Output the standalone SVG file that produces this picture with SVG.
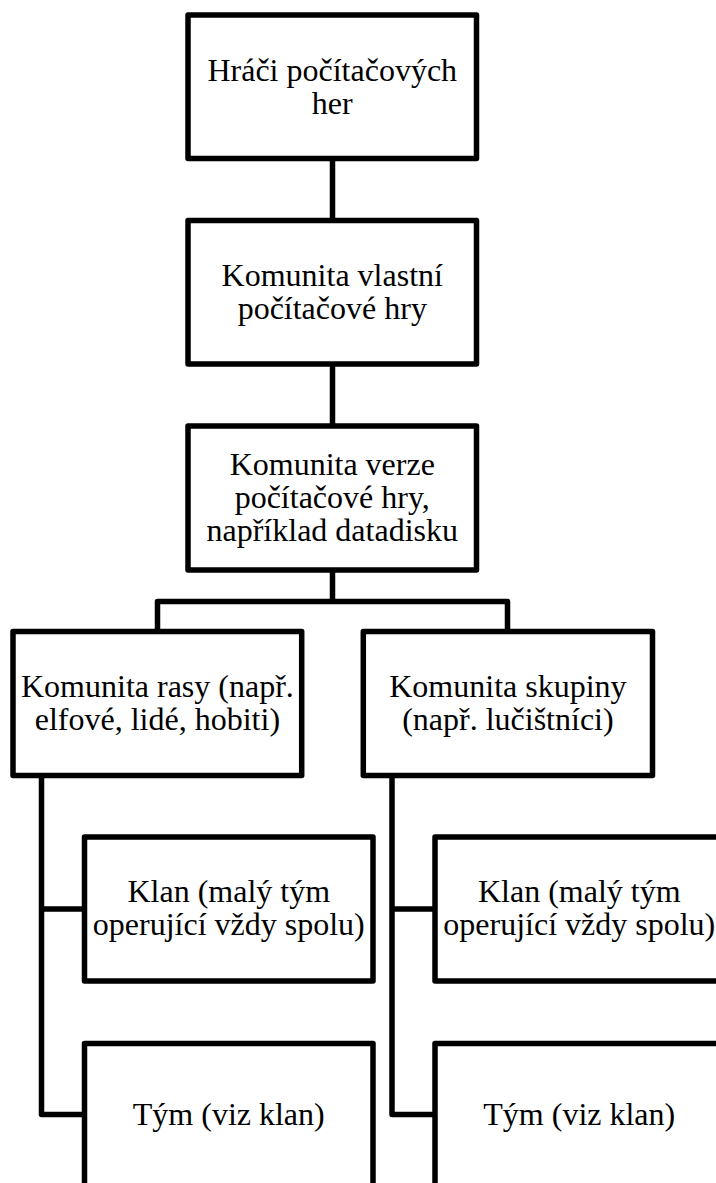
<svg xmlns="http://www.w3.org/2000/svg" width="716" height="1183" viewBox="0 0 716 1183">
<style>
.box{fill:#fff;stroke:#000;stroke-width:5.5;stroke-linejoin:round}
.conn{fill:none;stroke:#000;stroke-width:5.5;stroke-linejoin:round}
.t{font-family:"Liberation Serif","Times New Roman",serif;font-size:32px;fill:#000;text-anchor:middle}
</style>
<rect width="716" height="1183" fill="#fff"/>
<g id="connectors">
<path class="conn" d="M332.5 158.5 V220.5"/>
<path class="conn" d="M332.5 364 V426"/>
<path class="conn" d="M332.5 570 V601.5"/>
<path class="conn" d="M157.5 631.5 V601.5 H507.5 V631.5"/>
<path class="conn" d="M41.5 775.5 V1114.5 H84.5 M41.5 909 H84.5"/>
<path class="conn" d="M392 775.5 V1114.5 H435 M392 909 H435"/>
</g>
<g id="n1">
<rect class="box" x="188" y="15" width="288.5" height="143.5"/>
<text class="t" x="332.25" y="80.5">Hráči počítačových</text>
<text class="t" x="332.25" y="113.5">her</text>
</g>
<g id="n2">
<rect class="box" x="188" y="220.5" width="288.5" height="143.5"/>
<text class="t" x="332.25" y="286">Komunita vlastní</text>
<text class="t" x="332.25" y="319">počítačové hry</text>
</g>
<g id="n3">
<rect class="box" x="188" y="426" width="288.5" height="144"/>
<text class="t" x="332.25" y="475">Komunita verze</text>
<text class="t" x="332.25" y="508.3">počítačové hry,</text>
<text class="t" x="332.25" y="541">například datadisku</text>
</g>
<g id="n4">
<rect class="box" x="13" y="631.5" width="288.7" height="144"/>
<text class="t" x="157.4" y="697">Komunita rasy (např.</text>
<text class="t" x="157.4" y="730">elfové, lidé, hobiti)</text>
</g>
<g id="n5">
<rect class="box" x="363.3" y="631.5" width="289.2" height="144"/>
<text class="t" x="507.9" y="697">Komunita skupiny</text>
<text class="t" x="507.9" y="730">(např. lučištníci)</text>
</g>
<g id="n6">
<rect class="box" x="84.5" y="837" width="288.5" height="144"/>
<text class="t" x="228.75" y="902">Klan (malý tým</text>
<text class="t" x="228.75" y="935">operující vždy spolu)</text>
</g>
<g id="n7">
<rect class="box" x="84.5" y="1043.5" width="288.5" height="144"/>
<text class="t" x="228.75" y="1125.3">Tým (viz klan)</text>
</g>
<g id="n8">
<rect class="box" x="435" y="837" width="288.5" height="144"/>
<text class="t" x="579.25" y="902">Klan (malý tým</text>
<text class="t" x="579.25" y="935">operující vždy spolu)</text>
</g>
<g id="n9">
<rect class="box" x="435" y="1043.5" width="288.5" height="144"/>
<text class="t" x="579.25" y="1125.3">Tým (viz klan)</text>
</g>
</svg>
